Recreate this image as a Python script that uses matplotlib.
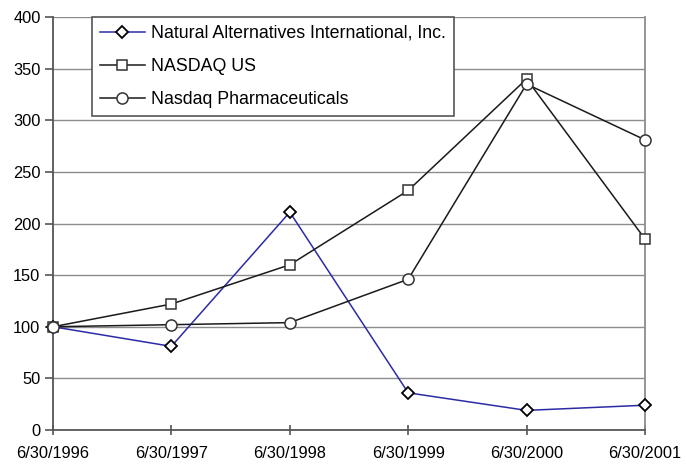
import numpy as np
import matplotlib.pyplot as plt

plt.rcParams['font.family'] = ['Liberation Sans', 'DejaVu Sans']

dates = ['6/30/1996', '6/30/1997', '6/30/1998', '6/30/1999', '6/30/2000', '6/30/2001']
nai = [100, 81, 211, 36, 19, 24]
nasdaq_us = [100, 122, 160, 232, 340, 185]
nasdaq_pharma = [100, 102, 104, 146, 335, 281]

x = np.arange(len(dates))

fig = plt.figure(figsize=(6.86, 4.66), dpi=100)
ax = fig.add_axes([53 / 686, 36 / 466, 592 / 686, 413 / 466])

for y in range(50, 401, 50):
    ax.axhline(y, color='#8c8c8c', lw=1, zorder=0)

ax.plot(x, nai, color='#2b2ba6', lw=1.1, marker='D', ms=6, mfc='white',
        mec='black', mew=1.3, label='Natural Alternatives International, Inc.',
        zorder=3, clip_on=False)
ax.plot(x, nasdaq_us, color='#1a1a1a', lw=1.1, marker='s', ms=7, mfc='white',
        mec='#333333', mew=1.1, label='NASDAQ US', zorder=3, clip_on=False)
ax.plot(x, nasdaq_pharma, color='#1a1a1a', lw=1.1, marker='o', ms=8, mfc='white',
        mec='#333333', mew=1.1, label='Nasdaq Pharmaceuticals', zorder=3, clip_on=False)

ax.set_xlim(0, len(dates) - 1)
ax.set_ylim(0, 400)
ax.set_xticks(x)
ax.set_xticklabels(dates)
ax.set_yticks(range(0, 401, 50))

ax.spines['top'].set_visible(False)
ax.spines['left'].set_color('#555555')
ax.spines['bottom'].set_color('#555555')
ax.spines['right'].set_color('#8c8c8c')
for side in ['left', 'bottom', 'right']:
    ax.spines[side].set_linewidth(1.3)

ax.tick_params(axis='y', direction='out', length=6, width=1.2, color='#555555',
               labelsize=11.8, pad=3)
ax.tick_params(axis='x', direction='inout', length=7, width=1.2, color='#555555',
               labelsize=11.8, pad=8)

leg = ax.legend(loc='upper left', bbox_to_anchor=(0.066, 1.0), fontsize=12.8,
                frameon=True, fancybox=False, borderpad=0.45, labelspacing=0.9,
                handlelength=2.5, handletextpad=0.35, borderaxespad=0)
leg.get_frame().set_edgecolor('#555555')
leg.get_frame().set_linewidth(1.2)
leg.get_frame().set_alpha(1)
leg.set_zorder(5)

fig.savefig('out.png', dpi=100)
